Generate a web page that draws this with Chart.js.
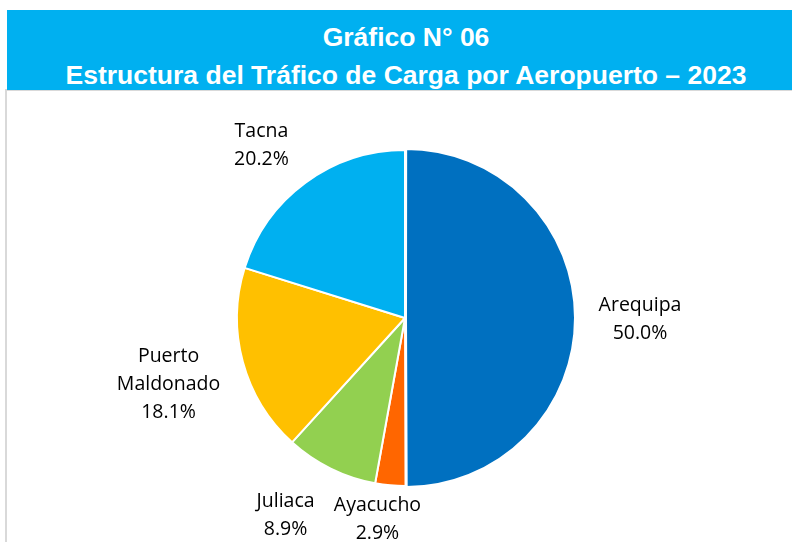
<!DOCTYPE html>
<html>
<head>
<meta charset="utf-8">
<script src="https://cdn.jsdelivr.net/npm/chart.js@4"></script>
<style>
  html, body { margin: 0; padding: 0; background: #fff; }
  #wrap { position: relative; width: 792px; height: 542px; overflow: hidden; }
  #banner {
    position: absolute; left: 7px; top: 10px; width: 798px; height: 80px;
    background: #00B0F0; color: #fff; z-index: 2;
    font-family: "Liberation Sans", Arial, sans-serif; font-weight: bold; font-size: 26.5px;
  }
  #banner div { position: absolute; left: 0; width: 798px; text-align: center; line-height: 30px; }
  #frame {
    position: absolute; left: 5px; top: 89px; width: 800px; height: 470px;
    border-left: 2px solid #d9d9d9; border-top: 2px solid #d9d9d9; z-index: 1;
  }
  canvas { position: absolute; left: 0; top: 0; z-index: 3; }
</style>
</head>
<body>
<div id="wrap">
  <div id="banner">
    <div style="top:12px">Gráfico N° 06</div>
    <div style="top:50px">Estructura del Tráfico de Carga por Aeropuerto – 2023</div>
  </div>
  <div id="frame"></div>
  <canvas id="pie" width="792" height="542"></canvas>
</div>
<script>
const airports = ['Arequipa', 'Ayacucho', 'Juliaca', 'Puerto Maldonado', 'Tacna'];
const shares = [50.0, 2.9, 8.9, 18.1, 20.2];
const sliceColors = ['#0070C0', '#FF6600', '#92D050', '#FFC000', '#00B0F0'];
// label lines as drawn in the picture
const labelLines = [['Arequipa'], ['Ayacucho'], ['Juliaca'], ['Puerto', 'Maldonado'], ['Tacna']];

// label placement: distance from centre and small x nudge
const labelDist = [235, 200, 218, 245, 217];
const labelNudge = [0, -10, -23, 0, -15];

const outsideLabels = {
  id: 'outsideLabels',
  afterDatasetsDraw(chart) {
    const ctx = chart.ctx;
    const meta = chart.getDatasetMeta(0);
    ctx.save();
    ctx.font = '19.5px "Open Sans", sans-serif';
    ctx.fillStyle = '#000';
    ctx.textAlign = 'center';
    ctx.textBaseline = 'middle';
    meta.data.forEach((arc, i) => {
      const p = arc.getProps(['x', 'y', 'startAngle', 'endAngle'], true);
      const mid = (p.startAngle + p.endAngle) / 2;
      const cx = chart.chartArea.left + chart.chartArea.width / 2;
      const cy = chart.chartArea.top + chart.chartArea.height / 2;
      const x = cx + Math.cos(mid) * labelDist[i] + labelNudge[i];
      const y = cy + Math.sin(mid) * labelDist[i] + 2;
      const lines = labelLines[i].concat([shares[i].toFixed(1) + '%']);
      const lh = 28;
      lines.forEach((t, k) => {
        ctx.fillText(t, x, y + (k - (lines.length - 1) / 2) * lh);
      });
    });
    ctx.restore();
  }
};

new Chart(document.getElementById('pie'), {
  type: 'pie',
  data: {
    labels: airports,
    datasets: [{
      data: shares,
      backgroundColor: sliceColors,
      borderColor: '#fff',
      borderWidth: 2,
      offset: [4, 0, 0, 0, 0]
    }]
  },
  options: {
    responsive: false,
    animation: false,
    layout: { padding: { left: 234, right: 216, top: 147, bottom: 53 } },
    plugins: { legend: { display: false }, tooltip: { enabled: false } }
  },
  plugins: [outsideLabels]
});
</script>
</body>
</html>
